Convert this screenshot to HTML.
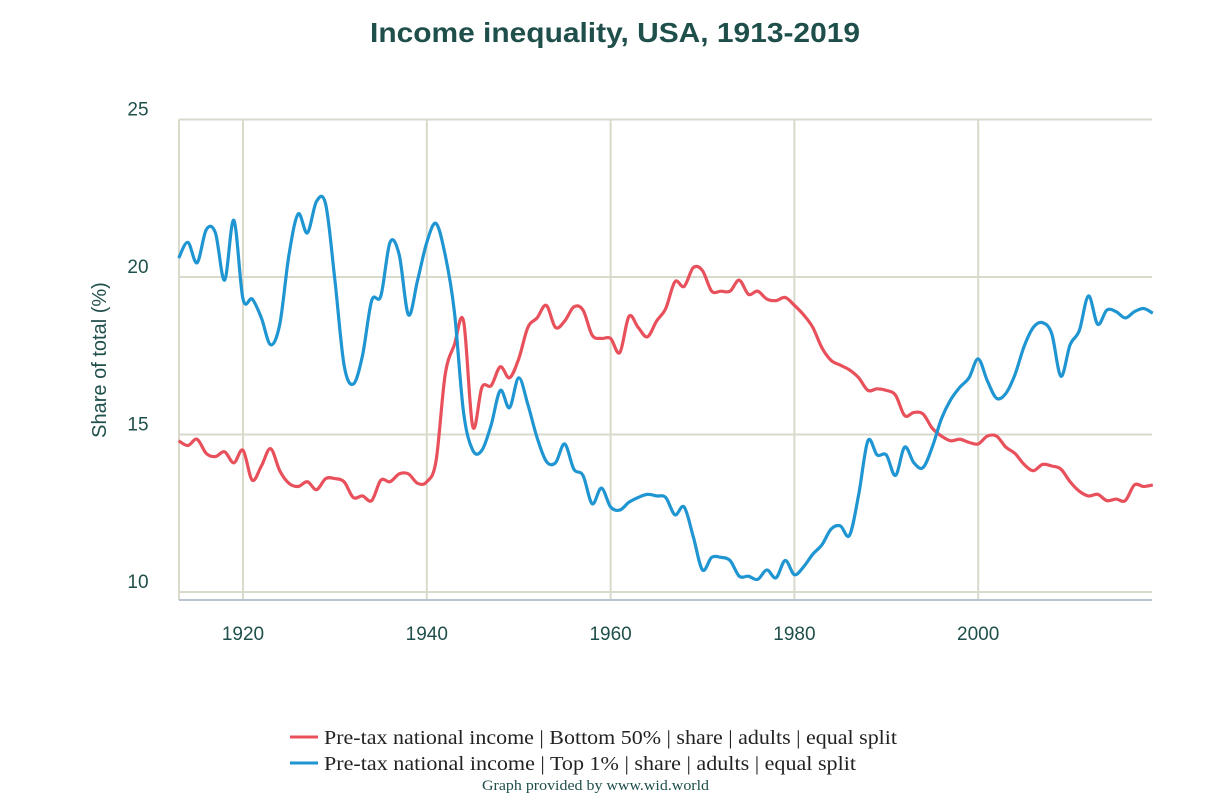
<!DOCTYPE html>
<html><head><meta charset="utf-8"><style>
body{margin:0;background:#fff;width:1232px;height:800px;overflow:hidden}
text{font-family:"Liberation Sans",sans-serif}
</style></head><body>
<svg id="chart" width="1232" height="800" xmlns="http://www.w3.org/2000/svg">
<text x="370" y="42" textLength="490" lengthAdjust="spacingAndGlyphs" font-size="28" font-weight="bold" fill="#1f4f4b">Income inequality, USA, 1913-2019</text>
<g id="grid"></g><g id="series"></g>
<text transform="translate(106,360) rotate(-90)" text-anchor="middle" font-size="20" fill="#1f4f4b">Share of total (%)</text>
<g>
<line x1="290" y1="737" x2="318" y2="737" stroke="#e8505b" stroke-width="3"/>
<text x="324" y="744" textLength="573" lengthAdjust="spacingAndGlyphs" font-size="20" fill="#222" style="font-family:'Liberation Serif',serif">Pre-tax national income | Bottom 50% | share | adults | equal split</text>
<line x1="290" y1="763" x2="318" y2="763" stroke="#1f95d2" stroke-width="3"/>
<text x="324" y="770" textLength="532" lengthAdjust="spacingAndGlyphs" font-size="20" fill="#222" style="font-family:'Liberation Serif',serif">Pre-tax national income | Top 1% | share | adults | equal split</text>
</g>
<text x="482" y="790" textLength="227" lengthAdjust="spacingAndGlyphs" font-size="15" fill="#1f4f4b" style="font-family:'Liberation Serif',serif">Graph provided by www.wid.world</text>
</svg>
<script>
const startYear = 1913;
const yTicks = [10, 15, 20, 25];
const xTicks = [1920, 1940, 1960, 1980, 2000];
const bottom50 = [14.8,14.65,14.85,14.4,14.3,14.45,14.1,14.5,13.55,14.0,14.55,13.85,13.45,13.35,13.5,13.25,13.6,13.6,13.5,13.0,13.05,12.9,13.55,13.5,13.75,13.75,13.45,13.5,14.15,16.9,17.85,18.6,15.25,16.5,16.55,17.15,16.8,17.4,18.4,18.7,19.1,18.4,18.6,19.05,18.95,18.15,18.05,18.05,17.6,18.75,18.4,18.1,18.6,19.0,19.85,19.7,20.3,20.2,19.55,19.55,19.55,19.9,19.45,19.55,19.3,19.25,19.35,19.1,18.8,18.4,17.75,17.35,17.2,17.05,16.8,16.4,16.45,16.4,16.25,15.6,15.7,15.65,15.2,14.95,14.8,14.85,14.75,14.7,14.95,14.95,14.6,14.4,14.05,13.85,14.05,14.0,13.9,13.5,13.2,13.05,13.1,12.9,12.95,12.9,13.4,13.35,13.4];
const top1 = [20.6,21.1,20.45,21.5,21.4,19.9,21.8,19.3,19.3,18.7,17.85,18.5,20.7,22.0,21.4,22.4,22.3,19.9,17.2,16.6,17.5,19.25,19.4,21.1,20.7,18.8,19.9,21.1,21.7,20.7,18.9,15.7,14.5,14.5,15.3,16.4,15.85,16.8,15.95,14.9,14.15,14.1,14.7,13.9,13.7,12.8,13.3,12.7,12.6,12.85,13.0,13.1,13.05,13.0,12.45,12.7,11.75,10.7,11.1,11.1,11.0,10.5,10.5,10.4,10.7,10.45,11.0,10.55,10.8,11.2,11.5,12.0,12.1,11.8,13.1,14.8,14.35,14.35,13.7,14.6,14.1,13.95,14.6,15.5,16.1,16.5,16.8,17.4,16.7,16.15,16.3,16.9,17.8,18.4,18.55,18.2,16.85,17.85,18.3,19.4,18.5,18.95,18.9,18.7,18.9,19.0,18.85];

const NS="http://www.w3.org/2000/svg";
const xs = yr => 243 + (yr-1920)*9.19;
const ys = v => 592 - (v-10)*31.5;
function mk(tag, attrs, parent){const e=document.createElementNS(NS,tag);for(const k in attrs)e.setAttribute(k,attrs[k]);parent.appendChild(e);return e;}
const grid=document.getElementById('grid');
const X0=179, X1=1152;
yTicks.forEach(t=>{
  const l=mk('line',{x1:X0,x2:X1,y1:ys(t),y2:ys(t),stroke:'#d9d9cc','stroke-width':2},grid);
  
  
  const tx=mk('text',{x:138,y:ys(t)-4,'text-anchor':'middle','font-size':19,fill:'#1f4f4b'},grid);
  tx.textContent=t;
  
  
});
const lv=mk('line',{x1:X0,x2:X0,y1:ys(25),y2:600,stroke:'#d9d9cc','stroke-width':2},grid);


xTicks.forEach(t=>{
  const l=mk('line',{x1:xs(t),x2:xs(t),y1:ys(25),y2:600,stroke:'#d9d9cc','stroke-width':2},grid);
  
  
  const tx=mk('text',{x:xs(t),y:640,'text-anchor':'middle','font-size':19,fill:'#1f4f4b'},grid);
  tx.textContent=t;
  
  
});
const ax=mk('line',{x1:X0,x2:X1,y1:600,y2:600,stroke:'#b9c4d3','stroke-width':2},grid);


function pathFor(vals){
  const p=vals.map((v,i)=>[xs(startYear+i),ys(v)]);
  let d='M'+p[0][0]+','+p[0][1];
  for(let i=0;i<p.length-1;i++){
    const p0=p[i-1]||p[i],p1=p[i],p2=p[i+1],p3=p[i+2]||p2;
    const c1=[p1[0]+(p2[0]-p0[0])/6,p1[1]+(p2[1]-p0[1])/6];
    const c2=[p2[0]-(p3[0]-p1[0])/6,p2[1]-(p3[1]-p1[1])/6];
    d+=' C'+c1+' '+c2+' '+p2;
  }
  return d;
}
const sg=document.getElementById('series');
const r=mk('path',{d:pathFor(bottom50),fill:'none',stroke:'#e8505b','stroke-width':3.2,'stroke-linejoin':'round'},sg);


const b=mk('path',{d:pathFor(top1),fill:'none',stroke:'#1f95d2','stroke-width':3.2,'stroke-linejoin':'round'},sg);


</script>
</body></html>
